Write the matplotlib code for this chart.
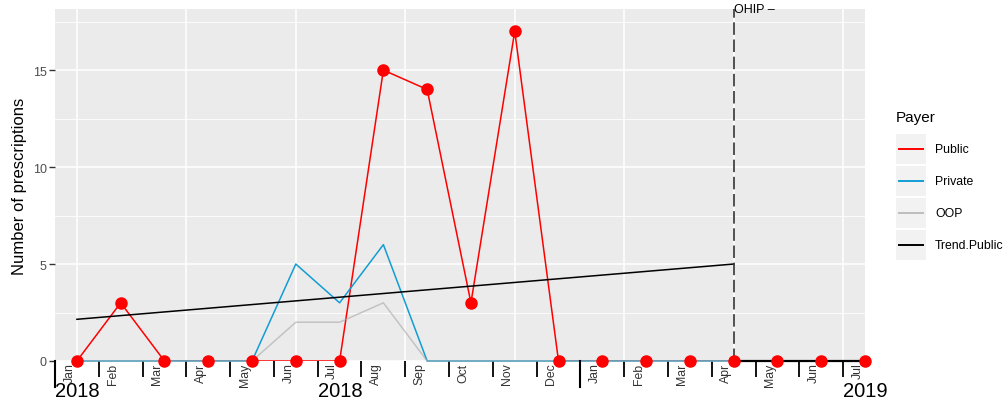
import matplotlib
matplotlib.use("Agg")
import numpy as np
import matplotlib.pyplot as plt
from matplotlib.patches import Rectangle

plt.rcParams['font.family'] = ['Liberation Sans', 'DejaVu Sans']

# Monthly series, Jan 2018 .. Jul 2019
periods = ['2018-01', '2018-02', '2018-03', '2018-04', '2018-05', '2018-06',
           '2018-07', '2018-08', '2018-09', '2018-10', '2018-11', '2018-12',
           '2019-01', '2019-02', '2019-03', '2019-04', '2019-05', '2019-06',
           '2019-07']
month_labels = ['Jan', 'Feb', 'Mar', 'Apr', 'May', 'Jun', 'Jul', 'Aug', 'Sep',
                'Oct', 'Nov', 'Dec', 'Jan', 'Feb', 'Mar', 'Apr', 'May', 'Jun',
                'Jul']
public = [0, 3, 0, 0, 0, 0, 0, 15, 14, 3, 17, 0, 0, 0, 0, 0, 0, 0, 0]
private = [0, 0, 0, 0, 0, 5, 3, 6, 0, 0, 0, 0, 0, 0, 0, 0, 0, 0, 0]
oop = [0, 0, 0, 0, 0, 2, 2, 3, 0, 0, 0, 0, 0, 0, 0, 0, 0, 0, 0]

# Public trend before and after the policy month
policy_period = '2019-04'
policy_label = 'OHIP \u2013'
trend_pre = [2.15, 5.0]
trend_post = [0, 0]

year_labels = ['2018', '2018', '2019']
year_periods = ['2018-01', '2018-07', '2019-07']
long_tick_periods = ['2018-01', '2019-01']

C_PUBLIC = '#ff0000'
C_PRIVATE = '#129dd3'
C_OOP = '#bdbdbd'
C_TREND = '#000000'

x = np.arange(len(periods))
pidx = periods.index(policy_period)

W, H = 1008, 402
fig = plt.figure(figsize=(W / 100, H / 100), dpi=100)
ax = fig.add_axes([55 / W, 1 - 362 / H, (865 - 55) / W, (362 - 10) / H])
ax.set_facecolor('#ebebeb')
for s in ax.spines.values():
    s.set_visible(False)

ax.set_xlim(-0.5, len(periods) - 1)
ax.set_ylim(0, 18.15)

# grid
for yv in [2.5, 7.5, 12.5, 17.5]:
    ax.axhline(yv, color='white', lw=0.6, zorder=0)
for yv in [0, 5, 10, 15]:
    ax.axhline(yv, color='white', lw=1.1, zorder=0)
for xv in np.arange(0, len(periods) - 1, 2.5):
    ax.axvline(xv, color='white', lw=1.1, zorder=0)

# series
ax.plot(x, public, color=C_PUBLIC, lw=1.1, zorder=2)
ax.plot(x, private, color=C_PRIVATE, lw=1.1, zorder=3, clip_on=False)
ax.plot(x, oop, color='#a8a8a8', lw=1.1, zorder=4, alpha=0.6, clip_on=False)
ax.plot([x[0], x[pidx]], trend_pre, color=C_TREND, lw=1.1, zorder=5)
ax.plot([x[pidx], x[-1]], trend_post, color=C_TREND, lw=1.6, zorder=5,
        clip_on=False)
ax.plot(x, public, 'o', color=C_PUBLIC, ms=8, zorder=7, clip_on=False)

# policy marker
vl = ax.axvline(x[pidx], color='#333333', lw=1.2, zorder=6)
vl.set_dashes((7.5, 2.8))
ax.text(x[pidx], 1.0, policy_label, transform=ax.get_xaxis_transform(),
        ha='left', va='center', fontsize=9, color='black', clip_on=False)

# y axis
ax.set_yticks([0, 5, 10, 15])
ax.tick_params(axis='y', length=4, width=1, color='#333333',
               labelsize=9, labelcolor='#4d4d4d', pad=2)
ax.set_ylabel('Number of prescriptions', fontsize=12, labelpad=4)

# x axis: ticks at month boundaries, rotated month names
ax.set_xticks(x - 0.5)
ax.set_xticklabels([])
ax.tick_params(axis='x', length=11.5, width=1.3, color='black')
xt = ax.get_xaxis_transform()
for p in long_tick_periods:
    i = periods.index(p)
    ax.plot([i - 0.5, i - 0.5], [0, -26 / 352], transform=xt, color='black',
            lw=1.5, clip_on=False, zorder=8)
for i, lab in enumerate(month_labels):
    ax.annotate(lab, xy=(i - 0.17, 0), xycoords=xt, xytext=(0, -1),
                textcoords='offset points', rotation=90, ha='center',
                va='top', fontsize=8.8, color='#333333')
for lab, p in zip(year_labels, year_periods):
    i = periods.index(p)
    ax.annotate(lab, xy=(i - 0.5, 0), xycoords=xt, xytext=(0, -14.5),
                textcoords='offset points', ha='left', va='top',
                fontsize=14.5, color='black')

# legend
def fx(px):
    return px / W

def fy(py):
    return 1 - py / H

fig.text(fx(896), fy(118), 'Payer', fontsize=11, ha='left', va='center')
entries = [('Public', C_PUBLIC), ('Private', C_PRIVATE), ('OOP', C_OOP),
           ('Trend.Public', C_TREND)]
for k, (lab, col) in enumerate(entries):
    cy = 150 + 32 * k
    fig.patches.append(Rectangle((fx(896), fy(cy + 15)), fx(30), 30 / H,
                                 transform=fig.transFigure,
                                 facecolor='#f2f2f2', edgecolor='none'))
    fig.lines.append(plt.Line2D([fx(899), fx(923)], [fy(cy), fy(cy)],
                                transform=fig.transFigure, color=col,
                                lw=1.4))
    fig.text(fx(935), fy(cy), lab, fontsize=8.8, ha='left', va='center')

fig.savefig('out.png', dpi=100)
